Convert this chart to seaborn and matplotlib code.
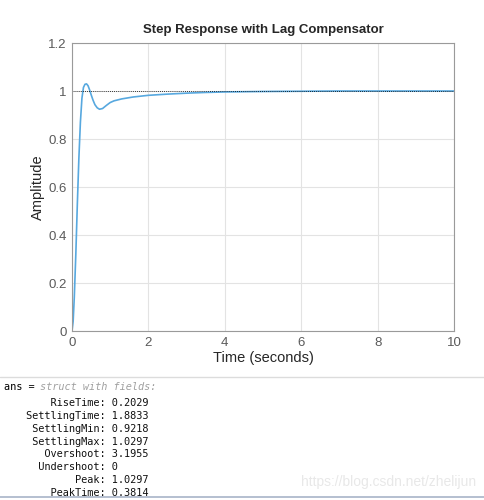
import numpy as np
import pandas as pd
import matplotlib
matplotlib.use("Agg")
import matplotlib.pyplot as plt
import seaborn as sns

# step response
time_s = [0, 0.03, 0.06, 0.1, 0.14, 0.18, 0.22, 0.26, 0.3, 0.34, 0.38, 0.42, 0.46,
          0.5, 0.55, 0.6, 0.66, 0.72, 0.8, 0.9, 1.0, 1.1, 1.3, 1.6, 2.0, 2.5,
          3.0, 3.5, 4.0, 5.0, 6.0, 7.0, 8.0, 9.0, 10.0]
amplitude = [0, 0.04, 0.14, 0.32, 0.53, 0.72, 0.87, 0.97, 1.015, 1.028, 1.0297, 1.022, 1.005,
             0.985, 0.962, 0.943, 0.93, 0.924, 0.927, 0.94, 0.952, 0.959, 0.967, 0.975, 0.982, 0.987,
             0.991, 0.994, 0.996, 0.998, 0.999, 1.0, 1.0, 1.0, 1.0]

x_ticks = [0, 2, 4, 6, 8, 10]
y_ticks = [0, 0.2, 0.4, 0.6, 0.8, 1, 1.2]

field_names = ["RiseTime", "SettlingTime", "SettlingMin", "SettlingMax",
               "Overshoot", "Undershoot", "Peak", "PeakTime"]
field_values = ["0.2029", "1.8833", "0.9218", "1.0297", "3.1955", "0", "1.0297", "0.3814"]

sns.set_style("whitegrid")
plt.rcParams["font.family"] = ["Liberation Sans", "DejaVu Sans"]

fig = plt.figure(figsize=(4.85, 5.0), dpi=100)
ax = fig.add_axes([72 / 485, 1 - 331 / 500, 382 / 485, 288 / 500])

df = pd.DataFrame({"t": time_s, "y": amplitude})
sns.lineplot(data=df, x="t", y="y", ax=ax, color="#57a8df", linewidth=1.2)
ax.axhline(1, color="black", linestyle=(0, (1, 1.5)), linewidth=0.6)

ax.set_xlim(0, 10)
ax.set_ylim(0, 1.2)
ax.set_xticks(x_ticks)
ax.set_yticks(y_ticks)
ax.set_yticklabels(["0", "0.2", "0.4", "0.6", "0.8", "1", "1.2"])
ax.grid(True, color="#e3e3e3", linewidth=0.8)
for s in ax.spines.values():
    s.set_color("#9a9a9a")
    s.set_linewidth(0.8)
ax.tick_params(colors="#5a5a5a", labelsize=9.5, length=0, pad=4)
ax.set_xlabel("Time (seconds)", fontsize=10.5, color="#262626", labelpad=2)
ax.set_ylabel("Amplitude", fontsize=10.5, color="#262626", labelpad=2)
ax.set_title("Step Response with Lag Compensator", fontsize=9.5, fontweight="bold", pad=7)

# console output below the plot
fig.add_artist(plt.Line2D([0, 1], [1 - 377 / 500] * 2, color="#dcdcdc", linewidth=1))
fig.add_artist(plt.Line2D([0, 1], [1 - 497 / 500] * 2, color="#a8b4c8", linewidth=1.2))
mono = "DejaVu Sans Mono"
fig.text(4 / 485, 1 - 387 / 500, "ans = ", family=mono, fontsize=7.4, va="center", color="black")
fig.text(40 / 485, 1 - 387 / 500, "struct with fields:", family=mono, fontsize=7.4,
         va="center", color="#a0a0a0", style="italic")
for i, (k, v) in enumerate(zip(field_names, field_values)):
    y = 403 + i * 12.86
    fig.text(26 / 485, 1 - y / 500, f"{k:>12}: {v}", family=mono, fontsize=7.4,
             va="center", color="#111111")

fig.text(476 / 485, 1 - 482 / 500, "https://blog.csdn.net/zhelijun", fontsize=10,
         ha="right", va="center", color="#e8e8e8")

fig.savefig("out.png", dpi=100)
